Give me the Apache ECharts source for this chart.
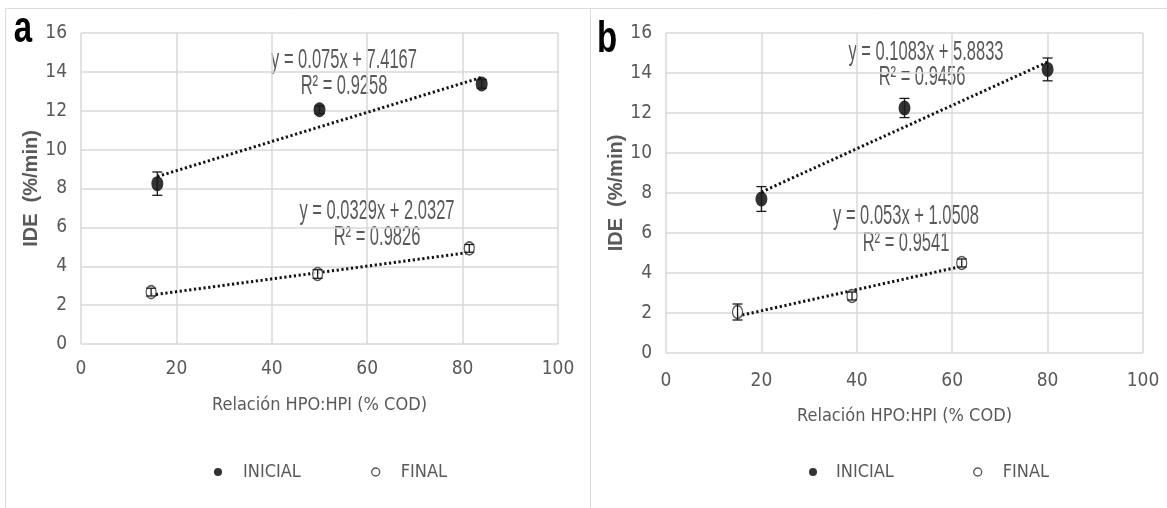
<!DOCTYPE html>
<html><head><meta charset="utf-8">
<script src="https://cdn.jsdelivr.net/npm/echarts@6/dist/echarts.min.js"></script>
<style>html,body{margin:0;padding:0;background:#fff}#c{width:1167px;height:508px}</style>
</head><body><div id="c"></div>
<script>
// ---- Axis ticks ----
const xTicks = [0, 20, 40, 60, 80, 100];
const yTicks = [0, 2, 4, 6, 8, 10, 12, 14, 16];
const seriesNames = ['INICIAL', 'FINAL'];
const xTitle = 'Relación HPO:HPI (% COD)';
const yTitle = 'IDE  (%/min)';
const panelLetters = ['a', 'b'];

// ---- Panel a ----
const aInicialX = [16, 50, 84];
const aInicialY = [8.25, 12.05, 13.38];
const aInicialErr = [0.6, 0.2, 0.22];
const aFinalX = [14.7, 49.6, 81.4];
const aFinalY = [2.67, 3.6, 4.92];
const aFinalErr = [0.2, 0.22, 0.2];
const aInicialFit = [0.075, 7.4167];
const aFinalFit = [0.0329, 2.0327];
const aEqTexts = ['y = 0.075x + 7.4167', 'R² = 0.9258', 'y = 0.0329x + 2.0327', 'R² = 0.9826'];

// ---- Panel b ----
const bInicialX = [20, 50, 80];
const bInicialY = [7.7, 12.25, 14.18];
const bInicialErr = [0.62, 0.48, 0.57];
const bFinalX = [15, 39, 62];
const bFinalY = [2.05, 2.85, 4.5];
const bFinalErr = [0.4, 0.2, 0.2];
const bInicialFit = [0.1083, 5.8833];
const bFinalFit = [0.053, 1.0508];
const bEqTexts = ['y = 0.1083x + 5.8833', 'R² = 0.9456', 'y = 0.053x + 1.0508', 'R² = 0.9541'];

const NARROW = "'DejaVu Sans Condensed',sans-serif";
const ARIAL = "'Liberation Sans',Arial,sans-serif";
const GRAY = '#595959';
const GRID = '#d9d9d9';
const ELLIPSE = 'path://M50,0A50,50 0 1,1 50,100A50,50 0 1,1 50,0Z';
const FILLED = { color: '#000' };
const OPEN = { color: '#fff', borderColor: '#333', borderWidth: 1.4 };

function trend(fit, xs) {
  const x0 = Math.min(...xs), x1 = Math.max(...xs);
  return [[x0, fit[0] * x0 + fit[1]], [x1, fit[0] * x1 + fit[1]]];
}
function errSeries(gi, xs, ys, errs) {
  return {
    type: 'custom', xAxisIndex: gi, yAxisIndex: gi, z: 4, silent: true,
    data: xs.map((x, i) => [x, ys[i] - errs[i], ys[i] + errs[i]]),
    encode: { x: 0, y: [1, 2] },
    renderItem(params, api) {
      const lo = api.coord([api.value(0), api.value(1)]);
      const hi = api.coord([api.value(0), api.value(2)]);
      const w = 5, st = { stroke: '#1a1a1a', lineWidth: 1.3 };
      return { type: 'group', children: [
        { type: 'line', shape: { x1: lo[0], y1: lo[1], x2: hi[0], y2: hi[1] }, style: st },
        { type: 'line', shape: { x1: lo[0] - w, y1: lo[1], x2: lo[0] + w, y2: lo[1] }, style: st },
        { type: 'line', shape: { x1: hi[0] - w, y1: hi[1], x2: hi[0] + w, y2: hi[1] }, style: st }
      ]};
    }
  };
}
function pts(xs, ys) { return xs.map((x, i) => [x, ys[i]]); }
function trendSeries(gi, data) {
  return { type: 'line', xAxisIndex: gi, yAxisIndex: gi, data, symbol: 'none', silent: true, z: 2,
    lineStyle: { color: '#111', width: 3, type: [2.2, 2.6] } };
}
function scatter(gi, name, data, filled) {
  return { type: 'scatter', name, xAxisIndex: gi, yAxisIndex: gi, data, z: 3,
    symbol: ELLIPSE, symbolSize: filled ? [12, 15] : [10, 13],
    itemStyle: filled ? FILLED : OPEN };
}

const grids = [
  { left: 81, top: 33, width: 477, height: 311 },
  { left: 666, top: 33, width: 477, height: 320 }
];
function xAxis(gi, margin, gap) {
  return { type: 'value', gridIndex: gi, min: xTicks[0], max: xTicks[xTicks.length - 1], interval: 20,
    axisLine: { show: false }, axisTick: { show: false },
    splitLine: { lineStyle: { color: GRID, width: 1.5 } },
    axisLabel: { color: GRAY, fontFamily: NARROW, fontSize: 19, margin },
    name: xTitle, nameLocation: 'middle', nameGap: gap,
    nameTextStyle: { color: GRAY, fontFamily: NARROW, fontSize: 18 } };
}
function yAxis(gi, gap) {
  return { type: 'value', gridIndex: gi, min: yTicks[0], max: yTicks[yTicks.length - 1], interval: 2,
    axisLine: { show: false }, axisTick: { show: false },
    splitLine: { lineStyle: { color: GRID, width: 1.5 } },
    axisLabel: { color: GRAY, fontFamily: NARROW, fontSize: 19, margin: 14 },
    name: yTitle, nameLocation: 'middle', nameGap: gap, nameRotate: 90,
    nameTextStyle: { color: GRAY, fontFamily: ARIAL, fontWeight: 'bold', fontSize: 20 } };
}
function legend(left, name, style, pad) {
  return { left, top: 458, itemWidth: 8, itemHeight: 11, data: [{ name, icon: ELLIPSE, itemStyle: style }],
    selectedMode: false,
    textStyle: { color: GRAY, fontFamily: NARROW, fontSize: 18, padding: [0, 0, 0, pad] } };
}
function eqText(x, y, text) {
  return { type: 'text', x, y, scaleX: 0.66, scaleY: 1.12, silent: true,
    style: { text, fill: GRAY, font: "25px " + ARIAL, textAlign: 'center', textVerticalAlign: 'middle' } };
}
function letter(x, y, text) {
  return { type: 'text', x, y, scaleY: 1.35, silent: true,
    style: { text, fill: '#000', font: "bold 33px " + ARIAL, textAlign: 'center', textVerticalAlign: 'middle' } };
}

const chart = echarts.init(document.getElementById('c'), null, { renderer: 'canvas' });
chart.setOption({
  animation: false,
  backgroundColor: '#fff',
  grid: grids,
  xAxis: [xAxis(0, 16, 52), xAxis(1, 19, 54)],
  yAxis: [yAxis(0, 33), yAxis(1, 33)],
  legend: [
    legend(209, seriesNames[0], FILLED, 16),
    legend(366, seriesNames[1], OPEN, 16),
    legend(804, seriesNames[0], FILLED, 14),
    legend(968, seriesNames[1], OPEN, 16)
  ],
  series: [
    trendSeries(0, trend(aInicialFit, aInicialX)),
    trendSeries(0, trend(aFinalFit, aFinalX)),
    scatter(0, seriesNames[0], pts(aInicialX, aInicialY), true),
    scatter(0, seriesNames[1], pts(aFinalX, aFinalY), false),
    errSeries(0, aInicialX, aInicialY, aInicialErr),
    errSeries(0, aFinalX, aFinalY, aFinalErr),
    trendSeries(1, trend(bInicialFit, bInicialX)),
    trendSeries(1, trend(bFinalFit, bFinalX)),
    scatter(1, seriesNames[0], pts(bInicialX, bInicialY), true),
    scatter(1, seriesNames[1], pts(bFinalX, bFinalY), false),
    errSeries(1, bInicialX, bInicialY, bInicialErr),
    errSeries(1, bFinalX, bFinalY, bFinalErr)
  ],
  graphic: [
    { type: 'line', shape: { x1: 5, y1: 8.5, x2: 1167, y2: 8.5 }, style: { stroke: '#dcdcdc', lineWidth: 1 }, silent: true },
    { type: 'line', shape: { x1: 5.5, y1: 8, x2: 5.5, y2: 508 }, style: { stroke: '#dcdcdc', lineWidth: 1 }, silent: true },
    { type: 'line', shape: { x1: 590.5, y1: 8, x2: 590.5, y2: 508 }, style: { stroke: '#dcdcdc', lineWidth: 1 }, silent: true },
    letter(23, 30, panelLetters[0]),
    letter(607, 40, panelLetters[1]),
    eqText(344, 60, aEqTexts[0]), eqText(344, 86, aEqTexts[1]),
    eqText(377, 211, aEqTexts[2]), eqText(377, 237, aEqTexts[3]),
    eqText(926, 52, bEqTexts[0]), eqText(922, 77, bEqTexts[1]),
    eqText(906, 216, bEqTexts[2]), eqText(906, 243, bEqTexts[3])
  ]
});
</script></body></html>
